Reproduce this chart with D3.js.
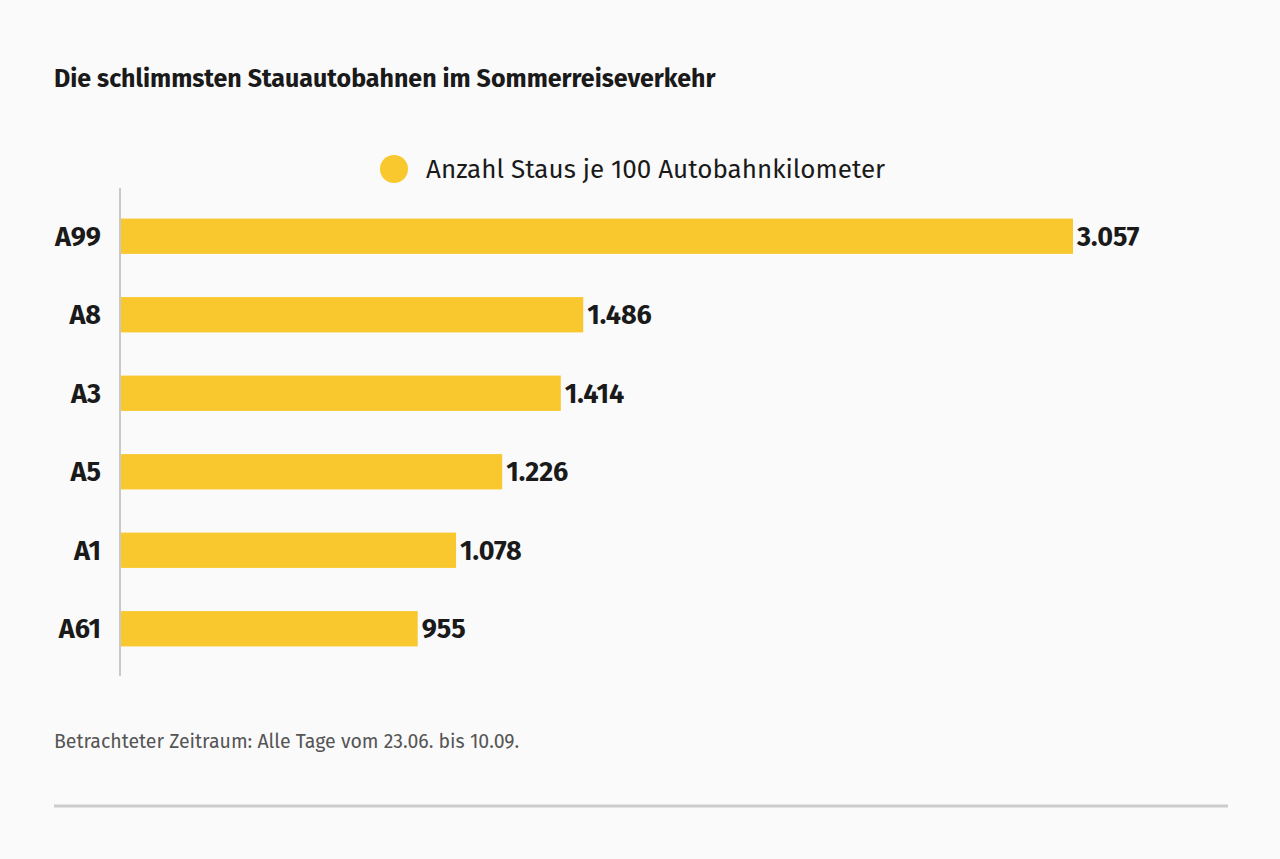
<!DOCTYPE html>
<html>
<head>
<meta charset="utf-8">
<script src="https://cdn.jsdelivr.net/npm/d3@7"></script>
<style>
  body { margin: 0; background: #fafafa; }
  svg { display: block; font-family: "Fira Sans", "Noto Sans", sans-serif; }
</style>
</head>
<body>
<svg id="chart" width="1280" height="859"></svg>
<script>
const roads = ["A99", "A8", "A3", "A5", "A1", "A61"];
const jams = [3057, 1486, 1414, 1226, 1078, 955];
const seriesName = "Anzahl Staus je 100 Autobahnkilometer";
const title = "Die schlimmsten Stauautobahnen im Sommerreiseverkehr";
const note = "Betrachteter Zeitraum: Alle Tage vom 23.06. bis 10.09.";

const yellow = "#f9c82e";
const svg = d3.select("#chart");

svg.append("text")
  .attr("x", 54).attr("y", 87)
  .attr("font-size", 25).attr("font-weight", 700)
  .attr("fill", "#1a1a1a")
  .text(title);

// legend
svg.append("circle").attr("cx", 394).attr("cy", 169).attr("r", 14).attr("fill", yellow);
svg.append("text")
  .attr("x", 426).attr("y", 178)
  .attr("font-size", 26).attr("fill", "#1a1a1a")
  .text(seriesName);

var x = d3.scaleLinear().domain([0, 3057]).range([120, 1073]);
var y = d3.scaleBand().domain(roads).range([197, 668]).paddingInner(0.55).paddingOuter(0.275);

const data = roads.map((r, i) => ({ road: r, value: jams[i] }));

svg.append("line")
  .attr("x1", 120).attr("x2", 120)
  .attr("y1", 188).attr("y2", 676)
  .attr("stroke", "#c8c8c8").attr("stroke-width", 2);

svg.append("g")
  .selectAll("rect")
  .data(data)
  .enter()
  .append("rect")
  .attr("x", x(0) + 1)
  .attr("y", d => y(d.road))
  .attr("width", d => x(d.value) - x(0) - 1)
  .attr("height", y.bandwidth())
  .attr("fill", yellow);

// road names
svg.append("g")
  .selectAll("text")
  .data(data)
  .enter()
  .append("text")
  .attr("x", 101)
  .attr("y", d => y(d.road) + y.bandwidth() / 2)
  .attr("dy", "0.36em")
  .attr("text-anchor", "end")
  .attr("font-size", 27).attr("font-weight", 700)
  .attr("fill", "#1a1a1a")
  .text(d => d.road);

// value labels
const fmt = d3.formatLocale({ decimal: ",", thousands: ".", grouping: [3], currency: ["", "€"] }).format(",d");
svg.append("g")
  .selectAll("text")
  .data(data)
  .enter()
  .append("text")
  .attr("x", d => x(d.value) + 4)
  .attr("y", d => y(d.road) + y.bandwidth() / 2)
  .attr("dy", "0.36em")
  .attr("font-size", 27).attr("font-weight", 700)
  .attr("fill", "#1a1a1a")
  .text(d => fmt(d.value));

svg.append("text")
  .attr("x", 54).attr("y", 748)
  .attr("font-size", 19.5).attr("fill", "#555")
  .text(note);

svg.append("line")
  .attr("x1", 54).attr("x2", 1228)
  .attr("y1", 806).attr("y2", 806)
  .attr("stroke", "#cccccc").attr("stroke-width", 3);
</script>
</body>
</html>
